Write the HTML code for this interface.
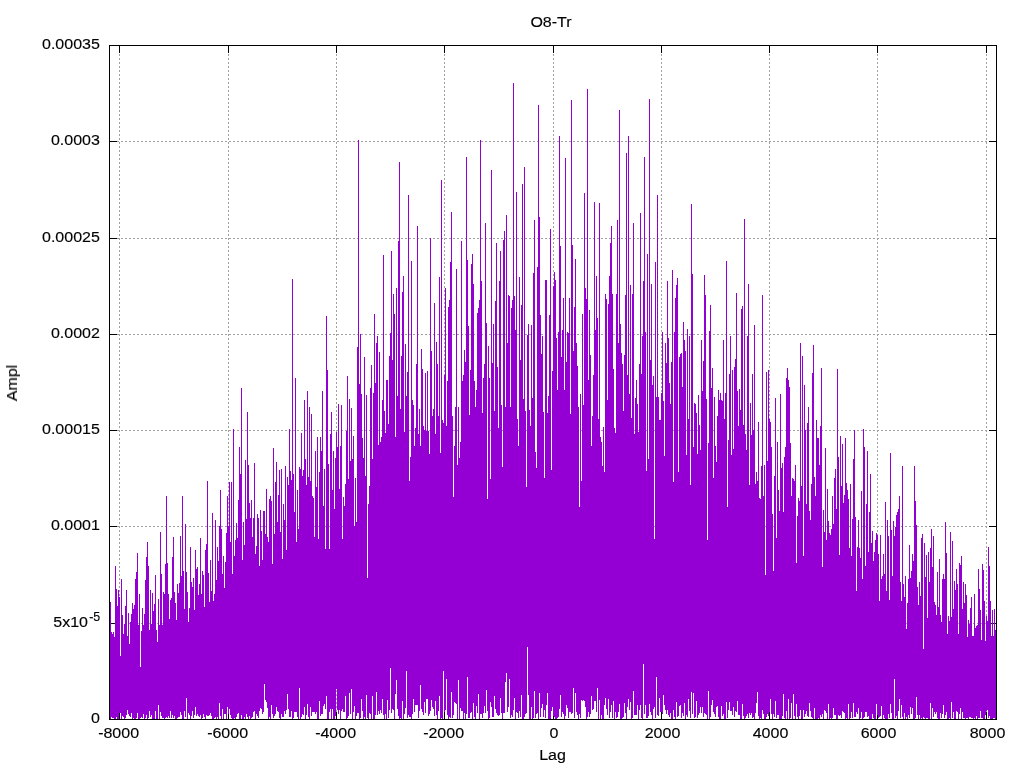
<!DOCTYPE html>
<html lang="en">
<head>
<meta charset="utf-8">
<title>O8-Tr</title>
<style>
html,body{margin:0;padding:0;background:#fff;}
body{width:1024px;height:768px;overflow:hidden;}
svg{display:block;}
text{font-family:"Liberation Sans",Arial,Helvetica,sans-serif;font-size:15.5px;fill:#000;stroke:#000;stroke-width:0.15px;}
</style>
</head>
<body>
<svg width="1024" height="768" viewBox="0 0 1024 768">
<rect width="1024" height="768" fill="#fff"/>
<g stroke="#a0a0a0" stroke-width="1" stroke-dasharray="2 2" shape-rendering="crispEdges" fill="none">
<line x1="119.5" y1="46" x2="119.5" y2="719" stroke-dashoffset="0"/>
<line x1="228.5" y1="46" x2="228.5" y2="719" stroke-dashoffset="0"/>
<line x1="336.5" y1="46" x2="336.5" y2="719" stroke-dashoffset="0"/>
<line x1="444.5" y1="46" x2="444.5" y2="719" stroke-dashoffset="0"/>
<line x1="553.5" y1="46" x2="553.5" y2="719" stroke-dashoffset="0"/>
<line x1="661.5" y1="46" x2="661.5" y2="719" stroke-dashoffset="0"/>
<line x1="769.5" y1="46" x2="769.5" y2="719" stroke-dashoffset="0"/>
<line x1="877.5" y1="46" x2="877.5" y2="719" stroke-dashoffset="0"/>
<line x1="986.5" y1="46" x2="986.5" y2="719" stroke-dashoffset="0"/>
<line x1="110" y1="623.5" x2="996" y2="623.5" stroke-dashoffset="1"/>
<line x1="110" y1="526.5" x2="996" y2="526.5" stroke-dashoffset="1"/>
<line x1="110" y1="430.5" x2="996" y2="430.5" stroke-dashoffset="1"/>
<line x1="110" y1="334.5" x2="996" y2="334.5" stroke-dashoffset="1"/>
<line x1="110" y1="238.5" x2="996" y2="238.5" stroke-dashoffset="1"/>
<line x1="110" y1="141.5" x2="996" y2="141.5" stroke-dashoffset="1"/>
</g>
<path stroke="#000" stroke-width="1" fill="none" shape-rendering="crispEdges" d="M119.5 719v-7M119.5 46v7M228.5 719v-7M228.5 46v7M336.5 719v-7M336.5 46v7M444.5 719v-7M444.5 46v7M553.5 719v-7M553.5 46v7M661.5 719v-7M661.5 46v7M769.5 719v-7M769.5 46v7M877.5 719v-7M877.5 46v7M986.5 719v-7M986.5 46v7M110 719.5h7M996 719.5h-7M110 623.5h7M996 623.5h-7M110 526.5h7M996 526.5h-7M110 430.5h7M996 430.5h-7M110 334.5h7M996 334.5h-7M110 238.5h7M996 238.5h-7M110 141.5h7M996 141.5h-7M110 45.5h7M996 45.5h-7"/>
<path fill="#9400d3" shape-rendering="crispEdges" d="M109 604h1V718h-1zM110 602h1V719h-1zM111 632h1V717h-1zM112 634h1V718h-1zM113 632h1V718h-1zM114 637h1V719h-1zM115 566h1V719h-1zM116 589h1V717h-1zM117 606h1V719h-1zM118 590h1V719h-1zM119 597h1V713h-1zM120 656h1V713h-1zM121 579h1V719h-1zM122 615h1V716h-1zM123 634h1V717h-1zM124 624h1V719h-1zM125 606h1V718h-1zM126 590h1V715h-1zM127 636h1V710h-1zM128 613h1V714h-1zM129 644h1V716h-1zM130 622h1V717h-1zM131 614h1V713h-1zM132 603h1V719h-1zM133 609h1V718h-1zM134 605h1V719h-1zM135 579h1V719h-1zM136 572h1V718h-1zM137 553h1V713h-1zM138 625h1V719h-1zM139 594h1V719h-1zM140 667h1V718h-1zM141 631h1V717h-1zM142 608h1V718h-1zM143 625h1V714h-1zM144 614h1V719h-1zM145 580h1V718h-1zM146 557h1V715h-1zM147 542h1V719h-1zM148 566h1V718h-1zM149 630h1V711h-1zM150 590h1V717h-1zM151 624h1V715h-1zM152 593h1V719h-1zM153 611h1V719h-1zM154 604h1V719h-1zM155 575h1V711h-1zM156 630h1V719h-1zM157 642h1V719h-1zM158 599h1V705h-1zM159 625h1V719h-1zM160 532h1V712h-1zM161 574h1V716h-1zM162 625h1V718h-1zM163 592h1V718h-1zM164 594h1V719h-1zM165 564h1V718h-1zM166 496h1V717h-1zM167 563h1V718h-1zM168 594h1V716h-1zM169 619h1V718h-1zM170 600h1V711h-1zM171 598h1V718h-1zM172 557h1V715h-1zM173 537h1V718h-1zM174 592h1V716h-1zM175 603h1V719h-1zM176 620h1V719h-1zM177 584h1V718h-1zM178 593h1V717h-1zM179 583h1V717h-1zM180 536h1V712h-1zM181 576h1V715h-1zM182 496h1V719h-1zM183 571h1V719h-1zM184 609h1V711h-1zM185 524h1V717h-1zM186 572h1V698h-1zM187 592h1V719h-1zM188 622h1V713h-1zM189 608h1V715h-1zM190 547h1V719h-1zM191 582h1V716h-1zM192 587h1V711h-1zM193 578h1V718h-1zM194 610h1V715h-1zM195 550h1V707h-1zM196 569h1V716h-1zM197 567h1V714h-1zM198 595h1V716h-1zM199 584h1V717h-1zM200 538h1V715h-1zM201 594h1V719h-1zM202 571h1V718h-1zM203 575h1V714h-1zM204 607h1V717h-1zM205 550h1V719h-1zM206 544h1V715h-1zM207 481h1V716h-1zM208 573h1V716h-1zM209 602h1V715h-1zM210 560h1V713h-1zM211 591h1V716h-1zM212 513h1V719h-1zM213 601h1V719h-1zM214 594h1V718h-1zM215 520h1V717h-1zM216 580h1V719h-1zM217 547h1V717h-1zM218 561h1V719h-1zM219 526h1V703h-1zM220 490h1V716h-1zM221 529h1V719h-1zM222 574h1V709h-1zM223 556h1V719h-1zM224 588h1V714h-1zM225 562h1V714h-1zM226 533h1V719h-1zM227 496h1V707h-1zM228 526h1V714h-1zM229 482h1V709h-1zM230 542h1V715h-1zM231 482h1V718h-1zM232 574h1V719h-1zM233 429h1V719h-1zM234 556h1V718h-1zM235 540h1V719h-1zM236 523h1V717h-1zM237 538h1V714h-1zM238 500h1V713h-1zM239 447h1V719h-1zM240 474h1V719h-1zM241 388h1V715h-1zM242 560h1V719h-1zM243 522h1V719h-1zM244 545h1V717h-1zM245 460h1V719h-1zM246 519h1V714h-1zM247 412h1V717h-1zM248 465h1V719h-1zM249 503h1V716h-1zM250 518h1V719h-1zM251 500h1V718h-1zM252 537h1V717h-1zM253 518h1V712h-1zM254 463h1V711h-1zM255 554h1V719h-1zM256 546h1V714h-1zM257 514h1V716h-1zM258 518h1V718h-1zM259 566h1V711h-1zM260 510h1V708h-1zM261 531h1V709h-1zM262 560h1V714h-1zM263 511h1V712h-1zM264 511h1V684h-1zM265 534h1V700h-1zM266 489h1V702h-1zM267 537h1V708h-1zM268 542h1V719h-1zM269 499h1V717h-1zM270 496h1V719h-1zM271 501h1V705h-1zM272 564h1V714h-1zM273 448h1V718h-1zM274 534h1V716h-1zM275 482h1V714h-1zM276 462h1V707h-1zM277 522h1V711h-1zM278 495h1V712h-1zM279 470h1V718h-1zM280 532h1V719h-1zM281 469h1V714h-1zM282 559h1V717h-1zM283 504h1V717h-1zM284 520h1V711h-1zM285 466h1V714h-1zM286 550h1V710h-1zM287 477h1V694h-1zM288 485h1V709h-1zM289 429h1V717h-1zM290 471h1V717h-1zM291 480h1V711h-1zM292 279h1V719h-1zM293 474h1V718h-1zM294 512h1V712h-1zM295 378h1V712h-1zM296 542h1V712h-1zM297 490h1V717h-1zM298 529h1V719h-1zM299 467h1V688h-1zM300 469h1V719h-1zM301 433h1V717h-1zM302 476h1V714h-1zM303 470h1V715h-1zM304 400h1V707h-1zM305 459h1V719h-1zM306 485h1V715h-1zM307 391h1V704h-1zM308 477h1V717h-1zM309 407h1V719h-1zM310 481h1V707h-1zM311 414h1V716h-1zM312 496h1V712h-1zM313 498h1V712h-1zM314 537h1V712h-1zM315 451h1V714h-1zM316 487h1V712h-1zM317 437h1V719h-1zM318 539h1V719h-1zM319 472h1V701h-1zM320 437h1V716h-1zM321 451h1V714h-1zM322 391h1V714h-1zM323 506h1V706h-1zM324 469h1V704h-1zM325 549h1V709h-1zM326 316h1V696h-1zM327 370h1V719h-1zM328 464h1V719h-1zM329 549h1V712h-1zM330 434h1V709h-1zM331 412h1V719h-1zM332 490h1V709h-1zM333 451h1V719h-1zM334 509h1V719h-1zM335 458h1V716h-1zM336 432h1V689h-1zM337 447h1V710h-1zM338 404h1V714h-1zM339 489h1V710h-1zM340 446h1V719h-1zM341 405h1V711h-1zM342 539h1V709h-1zM343 497h1V712h-1zM344 506h1V712h-1zM345 484h1V696h-1zM346 431h1V719h-1zM347 376h1V718h-1zM348 479h1V716h-1zM349 399h1V693h-1zM350 461h1V714h-1zM351 408h1V689h-1zM352 459h1V719h-1zM353 436h1V712h-1zM354 526h1V706h-1zM355 478h1V719h-1zM356 522h1V716h-1zM357 347h1V713h-1zM358 140h1V713h-1zM359 384h1V719h-1zM360 334h1V718h-1zM361 394h1V699h-1zM362 438h1V711h-1zM363 458h1V719h-1zM364 357h1V717h-1zM365 476h1V719h-1zM366 395h1V695h-1zM367 578h1V718h-1zM368 504h1V719h-1zM369 486h1V713h-1zM370 388h1V714h-1zM371 365h1V719h-1zM372 459h1V696h-1zM373 393h1V719h-1zM374 314h1V719h-1zM375 383h1V715h-1zM376 343h1V692h-1zM377 336h1V715h-1zM378 445h1V711h-1zM379 352h1V714h-1zM380 442h1V710h-1zM381 437h1V713h-1zM382 400h1V699h-1zM383 255h1V715h-1zM384 411h1V719h-1zM385 433h1V714h-1zM386 380h1V719h-1zM387 380h1V700h-1zM388 424h1V718h-1zM389 356h1V710h-1zM390 333h1V668h-1zM391 251h1V713h-1zM392 360h1V709h-1zM393 294h1V710h-1zM394 314h1V719h-1zM395 437h1V694h-1zM396 288h1V680h-1zM397 396h1V709h-1zM398 241h1V716h-1zM399 162h1V719h-1zM400 409h1V718h-1zM401 356h1V719h-1zM402 292h1V701h-1zM403 276h1V719h-1zM404 432h1V714h-1zM405 344h1V708h-1zM406 396h1V671h-1zM407 372h1V718h-1zM408 195h1V715h-1zM409 481h1V717h-1zM410 457h1V717h-1zM411 261h1V719h-1zM412 400h1V714h-1zM413 405h1V699h-1zM414 446h1V712h-1zM415 428h1V705h-1zM416 364h1V705h-1zM417 226h1V705h-1zM418 434h1V718h-1zM419 409h1V711h-1zM420 446h1V685h-1zM421 349h1V709h-1zM422 369h1V712h-1zM423 426h1V715h-1zM424 430h1V702h-1zM425 373h1V713h-1zM426 431h1V699h-1zM427 371h1V699h-1zM428 431h1V716h-1zM429 454h1V714h-1zM430 238h1V711h-1zM431 351h1V700h-1zM432 416h1V707h-1zM433 409h1V709h-1zM434 303h1V716h-1zM435 434h1V701h-1zM436 342h1V715h-1zM437 364h1V719h-1zM438 416h1V711h-1zM439 277h1V696h-1zM440 453h1V719h-1zM441 180h1V718h-1zM442 420h1V719h-1zM443 423h1V671h-1zM444 375h1V712h-1zM445 288h1V710h-1zM446 426h1V679h-1zM447 381h1V715h-1zM448 307h1V719h-1zM449 300h1V717h-1zM450 262h1V718h-1zM451 212h1V692h-1zM452 416h1V718h-1zM453 497h1V715h-1zM454 446h1V702h-1zM455 407h1V703h-1zM456 269h1V704h-1zM457 465h1V719h-1zM458 407h1V680h-1zM459 458h1V719h-1zM460 442h1V708h-1zM461 241h1V711h-1zM462 381h1V711h-1zM463 375h1V719h-1zM464 350h1V713h-1zM465 362h1V719h-1zM466 157h1V714h-1zM467 260h1V677h-1zM468 326h1V718h-1zM469 415h1V718h-1zM470 370h1V713h-1zM471 264h1V712h-1zM472 254h1V719h-1zM473 284h1V703h-1zM474 381h1V717h-1zM475 407h1V719h-1zM476 390h1V706h-1zM477 313h1V713h-1zM478 308h1V694h-1zM479 300h1V719h-1zM480 140h1V714h-1zM481 281h1V714h-1zM482 413h1V718h-1zM483 378h1V713h-1zM484 364h1V706h-1zM485 223h1V713h-1zM486 323h1V690h-1zM487 499h1V711h-1zM488 346h1V719h-1zM489 378h1V718h-1zM490 479h1V702h-1zM491 170h1V707h-1zM492 363h1V717h-1zM493 324h1V717h-1zM494 411h1V696h-1zM495 301h1V709h-1zM496 243h1V713h-1zM497 367h1V715h-1zM498 428h1V716h-1zM499 281h1V715h-1zM500 251h1V698h-1zM501 405h1V713h-1zM502 467h1V719h-1zM503 240h1V713h-1zM504 231h1V713h-1zM505 407h1V682h-1zM506 215h1V673h-1zM507 343h1V712h-1zM508 295h1V707h-1zM509 296h1V679h-1zM510 407h1V718h-1zM511 308h1V715h-1zM512 300h1V717h-1zM513 83h1V710h-1zM514 296h1V698h-1zM515 330h1V719h-1zM516 192h1V712h-1zM517 419h1V713h-1zM518 446h1V718h-1zM519 277h1V711h-1zM520 360h1V717h-1zM521 305h1V695h-1zM522 184h1V719h-1zM523 399h1V719h-1zM524 167h1V717h-1zM525 411h1V714h-1zM526 487h1V713h-1zM527 335h1V647h-1zM528 324h1V695h-1zM529 410h1V719h-1zM530 426h1V719h-1zM531 325h1V707h-1zM532 398h1V719h-1zM533 273h1V718h-1zM534 220h1V691h-1zM535 452h1V718h-1zM536 468h1V714h-1zM537 267h1V713h-1zM538 105h1V719h-1zM539 217h1V693h-1zM540 315h1V717h-1zM541 354h1V708h-1zM542 336h1V704h-1zM543 412h1V717h-1zM544 478h1V710h-1zM545 280h1V718h-1zM546 280h1V705h-1zM547 413h1V693h-1zM548 396h1V719h-1zM549 315h1V719h-1zM550 229h1V719h-1zM551 470h1V711h-1zM552 371h1V707h-1zM553 286h1V716h-1zM554 272h1V717h-1zM555 280h1V719h-1zM556 338h1V719h-1zM557 390h1V718h-1zM558 332h1V717h-1zM559 136h1V709h-1zM560 246h1V695h-1zM561 357h1V717h-1zM562 330h1V712h-1zM563 298h1V714h-1zM564 390h1V719h-1zM565 158h1V716h-1zM566 362h1V705h-1zM567 332h1V708h-1zM568 333h1V718h-1zM569 298h1V712h-1zM570 414h1V712h-1zM571 100h1V714h-1zM572 245h1V713h-1zM573 351h1V688h-1zM574 307h1V718h-1zM575 259h1V693h-1zM576 343h1V712h-1zM577 366h1V715h-1zM578 407h1V719h-1zM579 507h1V714h-1zM580 394h1V718h-1zM581 481h1V700h-1zM582 314h1V701h-1zM583 405h1V700h-1zM584 193h1V701h-1zM585 288h1V707h-1zM586 299h1V719h-1zM587 89h1V717h-1zM588 380h1V712h-1zM589 310h1V717h-1zM590 355h1V714h-1zM591 446h1V696h-1zM592 416h1V710h-1zM593 375h1V709h-1zM594 202h1V701h-1zM595 330h1V701h-1zM596 276h1V712h-1zM597 318h1V688h-1zM598 419h1V719h-1zM599 203h1V700h-1zM600 437h1V719h-1zM601 442h1V715h-1zM602 466h1V719h-1zM603 427h1V719h-1zM604 472h1V705h-1zM605 294h1V698h-1zM606 299h1V709h-1zM607 400h1V715h-1zM608 304h1V699h-1zM609 276h1V718h-1zM610 243h1V712h-1zM611 226h1V705h-1zM612 294h1V718h-1zM613 369h1V701h-1zM614 428h1V719h-1zM615 433h1V712h-1zM616 294h1V718h-1zM617 220h1V717h-1zM618 343h1V712h-1zM619 110h1V704h-1zM620 324h1V719h-1zM621 353h1V719h-1zM622 364h1V718h-1zM623 411h1V717h-1zM624 355h1V703h-1zM625 295h1V713h-1zM626 153h1V719h-1zM627 375h1V707h-1zM628 136h1V699h-1zM629 394h1V710h-1zM630 285h1V702h-1zM631 418h1V719h-1zM632 294h1V718h-1zM633 223h1V691h-1zM634 434h1V715h-1zM635 398h1V715h-1zM636 380h1V715h-1zM637 404h1V705h-1zM638 432h1V719h-1zM639 364h1V710h-1zM640 213h1V705h-1zM641 374h1V718h-1zM642 336h1V719h-1zM643 281h1V664h-1zM644 157h1V714h-1zM645 332h1V705h-1zM646 471h1V718h-1zM647 254h1V718h-1zM648 459h1V716h-1zM649 99h1V704h-1zM650 360h1V712h-1zM651 284h1V715h-1zM652 385h1V719h-1zM653 376h1V709h-1zM654 539h1V707h-1zM655 262h1V718h-1zM656 397h1V677h-1zM657 195h1V715h-1zM658 397h1V716h-1zM659 420h1V698h-1zM660 420h1V712h-1zM661 393h1V712h-1zM662 332h1V714h-1zM663 401h1V695h-1zM664 456h1V705h-1zM665 343h1V710h-1zM666 363h1V714h-1zM667 281h1V710h-1zM668 338h1V715h-1zM669 383h1V717h-1zM670 404h1V713h-1zM671 362h1V719h-1zM672 270h1V719h-1zM673 482h1V710h-1zM674 332h1V717h-1zM675 298h1V719h-1zM676 285h1V702h-1zM677 278h1V717h-1zM678 472h1V716h-1zM679 357h1V706h-1zM680 354h1V705h-1zM681 353h1V718h-1zM682 387h1V713h-1zM683 322h1V716h-1zM684 340h1V703h-1zM685 351h1V719h-1zM686 455h1V715h-1zM687 329h1V717h-1zM688 419h1V699h-1zM689 336h1V711h-1zM690 485h1V718h-1zM691 204h1V692h-1zM692 274h1V714h-1zM693 447h1V693h-1zM694 403h1V718h-1zM695 404h1V717h-1zM696 413h1V701h-1zM697 454h1V718h-1zM698 395h1V715h-1zM699 425h1V713h-1zM700 450h1V707h-1zM701 340h1V713h-1zM702 391h1V707h-1zM703 361h1V717h-1zM704 275h1V713h-1zM705 295h1V714h-1zM706 399h1V715h-1zM707 540h1V719h-1zM708 443h1V691h-1zM709 331h1V719h-1zM710 305h1V717h-1zM711 388h1V705h-1zM712 368h1V700h-1zM713 478h1V712h-1zM714 397h1V714h-1zM715 446h1V717h-1zM716 462h1V707h-1zM717 416h1V706h-1zM718 390h1V717h-1zM719 400h1V719h-1zM720 393h1V719h-1zM721 400h1V706h-1zM722 401h1V716h-1zM723 340h1V714h-1zM724 419h1V719h-1zM725 393h1V719h-1zM726 261h1V702h-1zM727 507h1V718h-1zM728 440h1V710h-1zM729 374h1V702h-1zM730 336h1V711h-1zM731 455h1V711h-1zM732 370h1V715h-1zM733 449h1V707h-1zM734 367h1V717h-1zM735 359h1V711h-1zM736 293h1V712h-1zM737 391h1V701h-1zM738 426h1V715h-1zM739 389h1V715h-1zM740 410h1V719h-1zM741 309h1V719h-1zM742 306h1V704h-1zM743 425h1V716h-1zM744 219h1V719h-1zM745 434h1V718h-1zM746 450h1V716h-1zM747 336h1V714h-1zM748 284h1V718h-1zM749 485h1V713h-1zM750 403h1V715h-1zM751 435h1V713h-1zM752 374h1V718h-1zM753 430h1V717h-1zM754 325h1V719h-1zM755 484h1V713h-1zM756 472h1V703h-1zM757 481h1V692h-1zM758 422h1V716h-1zM759 498h1V719h-1zM760 499h1V718h-1zM761 466h1V719h-1zM762 295h1V710h-1zM763 496h1V714h-1zM764 465h1V719h-1zM765 575h1V719h-1zM766 372h1V717h-1zM767 461h1V714h-1zM768 370h1V716h-1zM769 419h1V712h-1zM770 422h1V699h-1zM771 447h1V714h-1zM772 514h1V719h-1zM773 571h1V714h-1zM774 476h1V717h-1zM775 398h1V701h-1zM776 538h1V718h-1zM777 442h1V715h-1zM778 490h1V715h-1zM779 511h1V719h-1zM780 394h1V719h-1zM781 468h1V719h-1zM782 463h1V716h-1zM783 512h1V694h-1zM784 457h1V718h-1zM785 447h1V719h-1zM786 378h1V711h-1zM787 368h1V719h-1zM788 380h1V699h-1zM789 387h1V719h-1zM790 443h1V718h-1zM791 496h1V703h-1zM792 478h1V719h-1zM793 479h1V694h-1zM794 481h1V716h-1zM795 465h1V719h-1zM796 563h1V704h-1zM797 516h1V717h-1zM798 498h1V719h-1zM799 501h1V716h-1zM800 343h1V710h-1zM801 486h1V719h-1zM802 356h1V719h-1zM803 556h1V710h-1zM804 385h1V717h-1zM805 430h1V714h-1zM806 504h1V711h-1zM807 423h1V716h-1zM808 407h1V717h-1zM809 511h1V703h-1zM810 520h1V711h-1zM811 484h1V717h-1zM812 373h1V718h-1zM813 345h1V719h-1zM814 477h1V708h-1zM815 496h1V719h-1zM816 420h1V719h-1zM817 438h1V719h-1zM818 438h1V718h-1zM819 465h1V719h-1zM820 426h1V715h-1zM821 368h1V717h-1zM822 567h1V714h-1zM823 510h1V719h-1zM824 532h1V710h-1zM825 448h1V711h-1zM826 540h1V713h-1zM827 489h1V719h-1zM828 521h1V704h-1zM829 533h1V719h-1zM830 535h1V718h-1zM831 529h1V719h-1zM832 496h1V718h-1zM833 524h1V708h-1zM834 478h1V715h-1zM835 469h1V715h-1zM836 509h1V719h-1zM837 369h1V719h-1zM838 457h1V715h-1zM839 555h1V716h-1zM840 436h1V715h-1zM841 486h1V718h-1zM842 444h1V711h-1zM843 503h1V712h-1zM844 495h1V713h-1zM845 438h1V719h-1zM846 483h1V718h-1zM847 490h1V719h-1zM848 499h1V704h-1zM849 548h1V719h-1zM850 484h1V718h-1zM851 556h1V712h-1zM852 519h1V718h-1zM853 459h1V703h-1zM854 430h1V717h-1zM855 517h1V717h-1zM856 591h1V712h-1zM857 547h1V714h-1zM858 520h1V708h-1zM859 548h1V719h-1zM860 558h1V718h-1zM861 491h1V712h-1zM862 579h1V719h-1zM863 429h1V718h-1zM864 447h1V717h-1zM865 566h1V712h-1zM866 504h1V712h-1zM867 451h1V717h-1zM868 552h1V716h-1zM869 512h1V719h-1zM870 474h1V719h-1zM871 543h1V719h-1zM872 531h1V714h-1zM873 561h1V718h-1zM874 552h1V719h-1zM875 540h1V719h-1zM876 533h1V704h-1zM877 535h1V715h-1zM878 554h1V718h-1zM879 601h1V717h-1zM880 535h1V716h-1zM881 579h1V706h-1zM882 576h1V719h-1zM883 554h1V715h-1zM884 574h1V718h-1zM885 502h1V719h-1zM886 591h1V719h-1zM887 520h1V719h-1zM888 536h1V714h-1zM889 600h1V718h-1zM890 453h1V704h-1zM891 530h1V713h-1zM892 576h1V719h-1zM893 521h1V719h-1zM894 536h1V679h-1zM895 527h1V718h-1zM896 515h1V716h-1zM897 512h1V719h-1zM898 509h1V711h-1zM899 496h1V699h-1zM900 582h1V718h-1zM901 601h1V705h-1zM902 466h1V717h-1zM903 584h1V719h-1zM904 597h1V713h-1zM905 576h1V719h-1zM906 629h1V717h-1zM907 603h1V719h-1zM908 579h1V715h-1zM909 545h1V718h-1zM910 578h1V707h-1zM911 571h1V714h-1zM912 554h1V708h-1zM913 561h1V719h-1zM914 466h1V719h-1zM915 501h1V718h-1zM916 525h1V697h-1zM917 587h1V715h-1zM918 605h1V719h-1zM919 582h1V715h-1zM920 596h1V719h-1zM921 538h1V718h-1zM922 534h1V719h-1zM923 649h1V717h-1zM924 543h1V718h-1zM925 577h1V719h-1zM926 555h1V718h-1zM927 618h1V718h-1zM928 552h1V719h-1zM929 582h1V719h-1zM930 548h1V703h-1zM931 529h1V719h-1zM932 567h1V708h-1zM933 536h1V717h-1zM934 602h1V712h-1zM935 605h1V714h-1zM936 615h1V712h-1zM937 572h1V718h-1zM938 607h1V719h-1zM939 559h1V719h-1zM940 615h1V713h-1zM941 622h1V718h-1zM942 579h1V714h-1zM943 574h1V705h-1zM944 579h1V718h-1zM945 522h1V715h-1zM946 553h1V712h-1zM947 634h1V719h-1zM948 616h1V719h-1zM949 621h1V718h-1zM950 532h1V719h-1zM951 617h1V702h-1zM952 541h1V718h-1zM953 609h1V712h-1zM954 581h1V719h-1zM955 590h1V719h-1zM956 569h1V711h-1zM957 584h1V712h-1zM958 634h1V719h-1zM959 563h1V714h-1zM960 565h1V708h-1zM961 556h1V719h-1zM962 609h1V712h-1zM963 582h1V718h-1zM964 603h1V718h-1zM965 584h1V719h-1zM966 595h1V718h-1zM967 637h1V718h-1zM968 620h1V719h-1zM969 624h1V717h-1zM970 608h1V717h-1zM971 597h1V718h-1zM972 636h1V718h-1zM973 636h1V719h-1zM974 594h1V718h-1zM975 628h1V719h-1zM976 626h1V716h-1zM977 625h1V719h-1zM978 569h1V718h-1zM979 589h1V718h-1zM980 610h1V711h-1zM981 640h1V718h-1zM982 564h1V718h-1zM983 570h1V719h-1zM984 601h1V719h-1zM985 641h1V715h-1zM986 616h1V711h-1zM987 621h1V710h-1zM988 547h1V718h-1zM989 566h1V716h-1zM990 601h1V719h-1zM991 636h1V719h-1zM992 610h1V719h-1zM993 636h1V718h-1zM994 609h1V718h-1zM995 630h1V719h-1zM996 634h1V719h-1z"/>
<rect x="109.5" y="45.5" width="887" height="674" stroke="#000" stroke-width="1" fill="none" shape-rendering="crispEdges"/>
<g opacity="0.999">
<text transform="translate(118.6 737.9) scale(1.034 1)" text-anchor="middle">-8000</text>
<text transform="translate(227.6 737.9) scale(1.034 1)" text-anchor="middle">-6000</text>
<text transform="translate(335.6 737.9) scale(1.034 1)" text-anchor="middle">-4000</text>
<text transform="translate(443.6 737.9) scale(1.034 1)" text-anchor="middle">-2000</text>
<text transform="translate(554.0 737.9) scale(1.034 1)" text-anchor="middle">0</text>
<text transform="translate(662.5 737.9) scale(1.034 1)" text-anchor="middle">2000</text>
<text transform="translate(770.5 737.9) scale(1.034 1)" text-anchor="middle">4000</text>
<text transform="translate(878.5 737.9) scale(1.034 1)" text-anchor="middle">6000</text>
<text transform="translate(987.5 737.9) scale(1.034 1)" text-anchor="middle">8000</text>
<text transform="translate(99.9 723) scale(1.034 1)" text-anchor="end">0</text>
<text transform="translate(88 627.3) scale(1.034 1)" text-anchor="end">5x10</text>
<text transform="translate(100.2 621) scale(1.034 1)" text-anchor="end" style="font-size:12px">-5</text>
<text transform="translate(99.9 530) scale(1.034 1)" text-anchor="end">0.0001</text>
<text transform="translate(99.9 434) scale(1.034 1)" text-anchor="end">0.00015</text>
<text transform="translate(99.9 338) scale(1.034 1)" text-anchor="end">0.0002</text>
<text transform="translate(99.9 242) scale(1.034 1)" text-anchor="end">0.00025</text>
<text transform="translate(99.9 145) scale(1.034 1)" text-anchor="end">0.0003</text>
<text transform="translate(99.9 49) scale(1.034 1)" text-anchor="end">0.00035</text>
<text transform="translate(551 27) scale(1.034 1)" text-anchor="middle">O8-Tr</text>
<text transform="translate(552.5 760) scale(1.034 1)" text-anchor="middle">Lag</text>
<text transform="translate(17 383) rotate(-90) scale(1.034 1)" text-anchor="middle">Ampl</text>
</g>
</svg>
</body>
</html>
